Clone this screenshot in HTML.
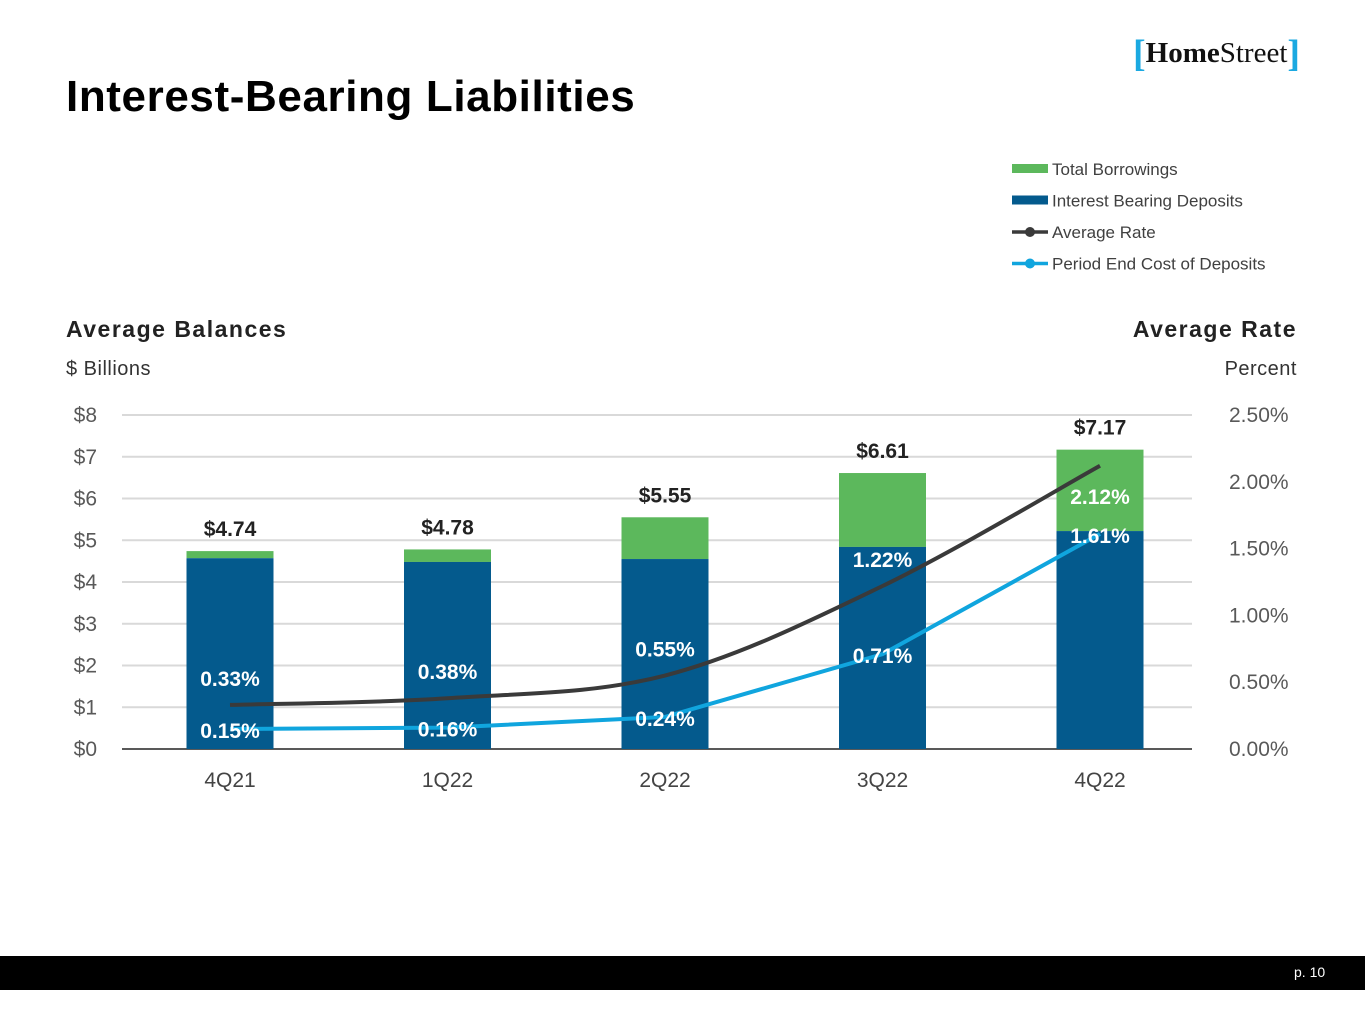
<!DOCTYPE html>
<html><head><meta charset="utf-8"><style>
body{margin:0;width:1365px;height:1024px;background:#fff;position:relative;overflow:hidden;font-family:"Liberation Sans",sans-serif}
.abs{position:absolute}
</style></head><body>
<div class="abs" style="left:66px;top:72px;font-size:44px;font-weight:bold;color:#000;letter-spacing:0.6px">Interest-Bearing Liabilities</div>
<div class="abs" style="left:1133px;top:32px;font-family:'Liberation Serif',serif;font-size:29px;color:#111;white-space:nowrap"><span style="color:#1ba9e1;font-weight:bold;font-size:38px;vertical-align:-4px">[</span><b>Home</b>Street<span style="color:#1ba9e1;font-weight:bold;font-size:38px;vertical-align:-4px">]</span></div>
<svg class="abs" style="left:0;top:0" width="1365" height="1024" id="chart"></svg>
<div class="abs" style="left:0;top:956px;width:1365px;height:34px;background:#000"></div>
<div class="abs" style="left:1294px;top:964px;color:#fff;font-size:14px">p. 10</div>
<script>
const categories=["4Q21","1Q22","2Q22","3Q22","4Q22"];
const deposits=[4.57,4.48,4.55,4.84,5.22];
const totals=[4.74,4.78,5.55,6.61,7.17];
const avgRate=[0.33,0.38,0.55,1.22,2.12];
const costDeposits=[0.15,0.16,0.24,0.71,1.61];
const leftTicks=[0,1,2,3,4,5,6,7,8];
const rightTicks=[0,0.5,1,1.5,2,2.5];
const svg=document.getElementById('chart');
const NS='http://www.w3.org/2000/svg';
const y0=749,y1=415,xL=122,xR=1192;
const yL=v=>y0-(v/8)*(y0-y1);
const yR=v=>y0-(v/2.5)*(y0-y1);
const xC=i=>230+i*217.5;
function mk(tag,attrs,txt){const e=document.createElementNS(NS,tag);for(const k in attrs)e.setAttribute(k,attrs[k]);if(txt!=null)e.textContent=txt;svg.appendChild(e);return e;}
const F='Liberation Sans, sans-serif';
leftTicks.forEach(v=>{
 const l=mk('line',{x1:xL,x2:xR,y1:yL(v),y2:yL(v),stroke:v===0?'#222':'#d9d9d9','stroke-width':v===0?1.5:2});
 
 
 const t=mk('text',{x:97,y:yL(v)+7,'text-anchor':'end','font-size':21,fill:'#595959','font-family':F},'$'+v);
 
 
});
rightTicks.forEach(v=>{
 const t=mk('text',{x:1229,y:yR(v)+7,'font-size':21,fill:'#595959','font-family':F},v.toFixed(2)+'%');
 
 
});
categories.forEach((c,i)=>{
 const x=xC(i),w=87;
 const g=mk('rect',{x:x-w/2,y:yL(totals[i]),width:w,height:yL(deposits[i])-yL(totals[i]),fill:'#5cb85c'});
 
 
 const b=mk('rect',{x:x-w/2,y:yL(deposits[i]),width:w,height:y0-yL(deposits[i]),fill:'#045a8d'});
 
 
 const t=mk('text',{x:x,y:yL(totals[i])-15,'text-anchor':'middle','font-size':21,'font-weight':'bold',fill:'#222','font-family':F},'$'+totals[i].toFixed(2));
 
 
 const xl=mk('text',{x:x,y:787,'text-anchor':'middle','font-size':21,fill:'#444','font-family':F},c);
 
 
});
const pts=avgRate.map((v,i)=>[xC(i),yR(v)]);
let d='M'+pts[0][0]+','+pts[0][1];
for(let i=0;i<pts.length-1;i++){
 const p0=pts[i-1]||pts[i],p1=pts[i],p2=pts[i+1],p3=pts[i+2]||p2;
 const c1=[p1[0]+(p2[0]-p0[0])/6,p1[1]+(p2[1]-p0[1])/6],c2=[p2[0]-(p3[0]-p1[0])/6,p2[1]-(p3[1]-p1[1])/6];
 d+=` C${c1} ${c2} ${p2}`;
}
const al=mk('path',{d:d,fill:'none',stroke:'#3a3a3a','stroke-width':4});


const cl=mk('polyline',{points:costDeposits.map((v,i)=>xC(i)+','+yR(v)).join(' '),fill:'none',stroke:'#10a5de','stroke-width':4});


avgRate.forEach((v,i)=>{
 const last=i===avgRate.length-1;
 const t=mk('text',{x:xC(i),y:last?yR(v)+38:yR(v)-19,'text-anchor':'middle','font-size':21,'font-weight':'bold',fill:'#fff','font-family':F},v.toFixed(2)+'%');
 
 
});
costDeposits.forEach((v,i)=>{
 const t=mk('text',{x:xC(i),y:yR(v)+9,'text-anchor':'middle','font-size':21,'font-weight':'bold',fill:'#fff','font-family':F},v.toFixed(2)+'%');
 
 
});
const leg=[['Total Borrowings','rect','#5cb85c'],['Interest Bearing Deposits','rect','#045a8d'],['Average Rate','line','#3a3a3a'],['Period End Cost of Deposits','line','#10a5de']];
leg.forEach((e,i)=>{
 const y=169+i*31.5;
 if(e[1]==='rect'){const r=mk('rect',{x:1012,y:y-5,width:36,height:9,fill:e[2]});}
 else{const l=mk('line',{x1:1012,x2:1048,y1:y,y2:y,stroke:e[2],'stroke-width':3.5});
  const c=mk('circle',{cx:1030,cy:y,r:5,fill:e[2]});}
 const t=mk('text',{x:1052,y:y+6,'font-size':17,fill:'#404040','font-family':F},e[0]);
 
 
});
[[66,337,'start','Average Balances',23,'bold','#222',1.5],[66,375,'start','$ Billions',20,'normal','#333',0.5],[1297,337,'end','Average Rate',23,'bold','#222',1.5],[1297,375,'end','Percent',20,'normal','#333',0.5]].forEach(a=>{
 const t=mk('text',{x:a[0],y:a[1],'text-anchor':a[2],'font-size':a[4],'font-weight':a[5],fill:a[6],'font-family':F,'letter-spacing':a[7]},a[3]);
 
 
});
</script>
</body></html>
